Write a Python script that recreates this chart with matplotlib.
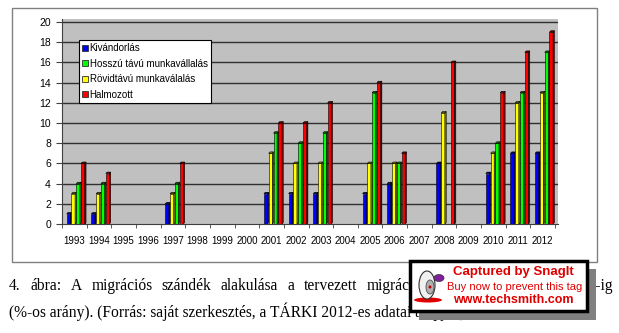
import matplotlib.pyplot as plt
from matplotlib.patches import Polygon, Rectangle, Ellipse
from matplotlib.lines import Line2D

# data
years = ['1993', '1994', '1995', '1996', '1997', '1998', '1999', '2000', '2001', '2002',
         '2003', '2004', '2005', '2006', '2007', '2008', '2009', '2010', '2011', '2012']
kivandorlas = [1, 1, 0, 0, 2, 0, 0, 0, 3, 3, 3, 0, 3, 4, 0, 6, 0, 5, 7, 7]
rovid = [3, 3, 0, 0, 3, 0, 0, 0, 7, 6, 6, 0, 6, 6, 0, 11, 0, 7, 12, 13]
hosszu = [4, 4, 0, 0, 4, 0, 0, 0, 9, 8, 9, 0, 13, 6, 0, 0, 0, 8, 13, 17]
halmozott = [6, 5, 0, 0, 6, 0, 0, 0, 10, 10, 12, 0, 14, 7, 0, 16, 0, 13, 17, 19]

labels = ['Kivándorlás', 'Hosszú távú munkavállalás', 'Rövidtávú munkaválalás', 'Halmozott']
face_cols = {'Kivándorlás': '#0000ff', 'Hosszú távú munkavállalás': '#00ff00',
             'Rövidtávú munkaválalás': '#ffff00', 'Halmozott': '#ff0000'}
side_cols = {'Kivándorlás': '#000080', 'Hosszú távú munkavállalás': '#008000',
             'Rövidtávú munkaválalás': '#808000', 'Halmozott': '#800000'}

# bars are drawn in this order inside each year
series = [('Kivándorlás', kivandorlas), ('Rövidtávú munkaválalás', rovid),
          ('Hosszú távú munkavállalás', hosszu), ('Halmozott', halmozott)]

W, H = 619, 333
fig = plt.figure(figsize=(W / 100, H / 100), dpi=100)
plt.rcParams['font.family'] = 'Liberation Sans'

def px(x0, y0, x1, y1):
    # pixel box (top-left origin) -> figure fraction rect
    return [x0 / W, 1 - y1 / H, (x1 - x0) / W, (y1 - y0) / H]

# outer chart frame
fig.patches.append(Rectangle((12 / W, 1 - 262 / H), 585 / W, 254 / H, transform=fig.transFigure,
                             fill=False, edgecolor='#808080', linewidth=1))

ax = fig.add_axes(px(62, 19, 558, 224))
ax.set_facecolor('#c0c0c0')
ax.set_xlim(-0.5, 19.62)
ax.set_ylim(0, 20.3)

for v in range(2, 21, 2):
    ax.axhline(v, color='#303030', linewidth=1, zorder=1)

pitch, w, dx, dy = 0.195, 0.145, 0.055, 0.14
for k, (name, vals) in enumerate(series):
    for i, v in enumerate(vals):
        if v == 0:
            continue
        x = i - 0.31 + k * pitch
        ax.bar(x, v, width=w, align='edge', color=face_cols[name], edgecolor='black',
               linewidth=0.4, zorder=3)
        side = Polygon([(x + w, 0), (x + w + dx, dy), (x + w + dx, v + dy), (x + w, v)],
                       closed=True, facecolor=side_cols[name], edgecolor='black',
                       linewidth=0.4, zorder=3)
        top = Polygon([(x, v), (x + w, v), (x + w + dx, v + dy), (x + dx, v + dy)],
                      closed=True, facecolor=side_cols[name], edgecolor='black',
                      linewidth=0.4, zorder=3)
        ax.add_patch(side)
        ax.add_patch(top)

ax.set_yticks(range(0, 21, 2))
ax.set_xticks(range(len(years)))
ax.set_xticklabels(years)
ax.set_xticks([i - 0.5 for i in range(len(years) + 1)], minor=True)
ax.tick_params(axis='x', which='major', length=0, pad=9, labelsize=7)
ax.tick_params(axis='x', which='minor', length=3, direction='out', color='#404040')
ax.tick_params(axis='y', length=4, pad=4, labelsize=7.5, color='#404040')
for s in ['top', 'right']:
    ax.spines[s].set_visible(False)
ax.spines['left'].set_color('#404040')
ax.spines['bottom'].set_color('#404040')

handles = [Line2D([], [], marker='s', linestyle='none', markersize=4.5,
                  markerfacecolor=face_cols[n], markeredgecolor='#303030', markeredgewidth=0.6)
           for n in labels]
leg = ax.legend(handles, labels, loc='upper left', bbox_to_anchor=(79 / W, 1 - 40 / H),
                bbox_transform=fig.transFigure, fontsize=7, frameon=True, fancybox=False,
                framealpha=1, edgecolor='black', handlelength=0.6, handletextpad=0.2,
                labelspacing=0.58, borderpad=0.3, borderaxespad=0)
leg.get_frame().set_linewidth(0.8)
leg.set_zorder(5)

# caption, first line justified
serif = 'Liberation Serif'
line1 = '4. ábra: A migrációs szándék alakulása a tervezett migráció típusa szerint 1993-2012-ig'
line2 = '(%-os arány). (Forrás: saját szerkesztés, a TÁRKI 2012-es adatai alapján)'
fs = 11.2
renderer = fig.canvas.get_renderer()
words = line1.split()
texts = [fig.text(0, 1 - 290 / H, wd, fontsize=fs, family=serif, va='baseline') for wd in words]
widths = [t.get_window_extent(renderer).width for t in texts]
left, right = 9, 613
gap = (right - left - sum(widths)) / (len(words) - 1)
xpos = left
for t, wdt in zip(texts, widths):
    t.set_x(xpos / W)
    xpos += wdt + gap
fig.text(9 / W, 1 - 317 / H, line2, fontsize=fs, family=serif, va='baseline')

# SnagIt tag over the caption
fig.patches.append(Rectangle((419 / W, 1 - 320 / H), 177 / W, 51 / H, transform=fig.transFigure,
                             facecolor='#808080', edgecolor='none', zorder=10))
fig.patches.append(Rectangle((410 / W, 1 - 311 / H), 177 / W, 50 / H, transform=fig.transFigure,
                             facecolor='white', edgecolor='black', linewidth=2.5, zorder=11))
fig.patches.append(Ellipse((428 / W, 1 - 300 / H), 28 / W, 5 / H, transform=fig.transFigure,
                           facecolor='#e00000', edgecolor='none', zorder=12))
fig.patches.append(Ellipse((427 / W, 1 - 285 / H), 16 / W, 28 / H, transform=fig.transFigure,
                           facecolor='#f0f0f0', edgecolor='#303030', linewidth=0.8, zorder=12))
fig.patches.append(Ellipse((430 / W, 1 - 287 / H), 8 / W, 14 / H, transform=fig.transFigure,
                           facecolor='#b0b0b0', edgecolor='#505050', linewidth=0.6, zorder=12))
fig.patches.append(Ellipse((430 / W, 1 - 287 / H), 3 / W, 3 / H, transform=fig.transFigure,
                           facecolor='#c00000', edgecolor='none', zorder=12))
fig.patches.append(Ellipse((439 / W, 1 - 278 / H), 10 / W, 7 / H, transform=fig.transFigure,
                           facecolor='#8020a0', edgecolor='#303030', linewidth=0.5, zorder=12))
fig.text(513 / W, 1 - 272 / H, 'Captured by SnagIt', color='#e00000', fontsize=9.5,
         fontweight='bold', ha='center', va='center', zorder=13)
fig.text(515 / W, 1 - 287 / H, 'Buy now to prevent this tag', color='#e00000', fontsize=8,
         ha='center', va='center', zorder=13)
fig.text(513 / W, 1 - 300 / H, 'www.techsmith.com', color='#e00000', fontsize=9,
         fontweight='bold', ha='center', va='center', zorder=13)

fig.savefig('out.png', dpi=100)
